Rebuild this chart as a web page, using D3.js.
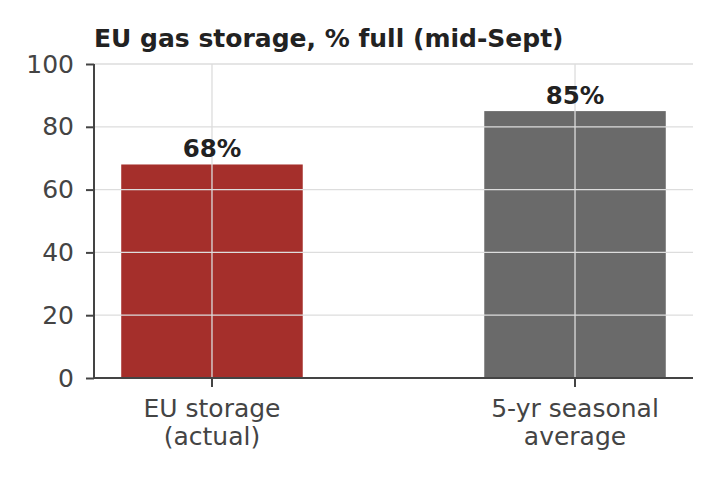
<!DOCTYPE html>
<meta charset="utf-8">
<style>
body { margin: 0; background: #fff; }
svg text { font-family: "DejaVu Sans", sans-serif; }
.grid line { stroke: #dddddd; stroke-width: 1.3px; }
.axis path, .axis line { stroke: #444; stroke-width: 2px; }
.axis text { fill: #444; font-size: 25px; font-family: "DejaVu Sans", sans-serif; }
.title { font-size: 25px; font-weight: bold; fill: #222; }
.label { font-size: 24.5px; font-weight: bold; fill: #222; }
</style>
<body>
<script src="https://cdn.jsdelivr.net/npm/d3@7"></script>
<script>

var categories = ["EU storage\n(actual)", "5-yr seasonal\naverage"];
var values = [68, 85];
var colors = ["#a52f2b", "#6a6a6a"];
var yTicks = [0, 20, 40, 60, 80, 100];

var width = 720,
    height = 480,
    mLeft = 94, mRight = 693, mTop = 64, mBottom = 378;

var svg = d3.select("body").append("svg")
    .attr("width", width)
    .attr("height", height);

var x = d3.scaleBand()
    .domain(categories)
    .range([mLeft, mRight])
    .paddingInner(0.5)
    .paddingOuter(0.075);

var y = d3.scaleLinear()
    .domain([0, 100])
    .range([mBottom, mTop]);

// bars
svg.selectAll("rect.bar")
  .data(values)
  .enter().append("rect")
    .attr("class", "bar")
    .attr("x", (d, i) => x(categories[i]))
    .attr("width", x.bandwidth())
    .attr("y", d => y(d))
    .attr("height", d => y(0) - y(d))
    .attr("fill", (d, i) => colors[i]);

// grid on top of bars
var grid = svg.append("g").attr("class", "grid");
grid.selectAll("line.h")
  .data(yTicks.slice(1))
  .enter().append("line")
    .attr("x1", mLeft).attr("x2", mRight)
    .attr("y1", d => y(d)).attr("y2", d => y(d));
grid.selectAll("line.v")
  .data(categories)
  .enter().append("line")
    .attr("x1", d => x(d) + x.bandwidth() / 2)
    .attr("x2", d => x(d) + x.bandwidth() / 2)
    .attr("y1", mTop).attr("y2", mBottom);

// axes
var yAxis = svg.append("g")
    .attr("class", "axis")
    .attr("transform", "translate(" + mLeft + ",0)")
    .call(d3.axisLeft(y).tickValues(yTicks).tickSize(8).tickSizeOuter(0).tickPadding(12));
yAxis.select(".domain").attr("d", "M0," + mTop + "V" + mBottom);

var xAxis = svg.append("g")
    .attr("class", "axis")
    .attr("transform", "translate(0," + mBottom + ")")
    .call(d3.axisBottom(x).tickSize(9).tickSizeOuter(0).tickFormat(""));
xAxis.select(".domain").attr("d", "M" + mLeft + ",0H" + mRight);

xAxis.selectAll(".tick").each(function(d) {
  var t = d3.select(this).append("text")
      .attr("text-anchor", "middle")
      .attr("y", 39);
  d.split("\n").forEach(function(line, i) {
    t.append("tspan").attr("x", 0).attr("dy", i ? 28 : 0).text(line);
  });
});

// value labels
svg.selectAll("text.label")
  .data(values)
  .enter().append("text")
    .attr("class", "label")
    .attr("text-anchor", "middle")
    .attr("x", (d, i) => x(categories[i]) + x.bandwidth() / 2)
    .attr("y", d => y(d) - 7)
    .text(d => d + "%");

svg.append("text")
    .attr("class", "title")
    .attr("x", mLeft)
    .attr("y", 47)
    .text("EU gas storage, % full (mid-Sept)");

</script>
</body>
</html>
